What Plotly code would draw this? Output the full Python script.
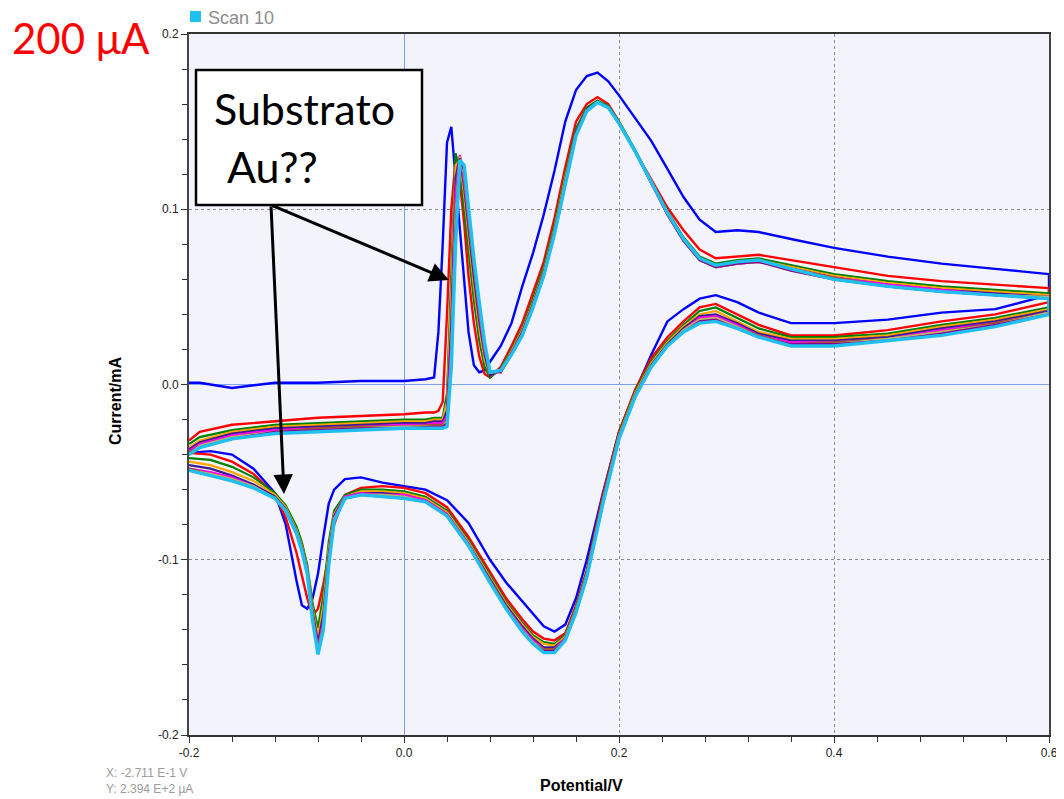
import plotly.graph_objects as go

# ---------------- data ----------------
# potential grid, forward sweep (-0.2 -> 0.6 V) and reverse sweep (0.6 -> -0.2 V)
E_FWD = [-0.200, -0.190, -0.160, -0.120, -0.080, -0.040, 0.000, 0.020, 0.028, 0.032,
         0.036, 0.040, 0.044, 0.048, 0.052, 0.056, 0.060, 0.065, 0.070, 0.075,
         0.080, 0.090, 0.100, 0.110, 0.120, 0.130, 0.140, 0.150, 0.160, 0.170,
         0.180, 0.190, 0.200, 0.215, 0.230, 0.245, 0.260, 0.275, 0.290, 0.310,
         0.330, 0.360, 0.400, 0.450, 0.500, 0.550, 0.600]
E_REV = [0.600, 0.550, 0.500, 0.450, 0.400, 0.360, 0.330, 0.310, 0.290, 0.275,
         0.260, 0.245, 0.230, 0.215, 0.200, 0.185, 0.170, 0.160, 0.150, 0.140,
         0.130, 0.120, 0.110, 0.095, 0.080, 0.060, 0.040, 0.020, 0.000, -0.020,
         -0.040, -0.055, -0.065, -0.070, -0.075, -0.080, -0.085, -0.090, -0.095, -0.100,
         -0.110, -0.120, -0.140, -0.160, -0.180, -0.200]

SCAN_NAMES = ["Scan 1", "Scan 2", "Scan 3", "Scan 4", "Scan 5",
              "Scan 6", "Scan 7", "Scan 8", "Scan 9", "Scan 10"]

# current (mA), forward sweep
I_FWD_1 = [0.001, 0.001, -0.002, 0.001, 0.001, 0.002, 0.002, 0.003, 0.004, 0.030,
           0.080, 0.138, 0.147, 0.118, 0.090, 0.058, 0.030, 0.011, 0.007, 0.008,
           0.013, 0.022, 0.035, 0.056, 0.075, 0.097, 0.122, 0.150, 0.168, 0.176,
           0.178, 0.173, 0.165, 0.152, 0.139, 0.123, 0.107, 0.094, 0.087, 0.088,
           0.087, 0.083, 0.078, 0.073, 0.069, 0.066, 0.063]
I_FWD_2 = [-0.032, -0.027, -0.023, -0.021, -0.019, -0.018, -0.017, -0.016, -0.016, -0.015,
           -0.010, 0.040, 0.100, 0.128, 0.115, 0.092, 0.062, 0.035, 0.016, 0.006,
           0.004, 0.010, 0.022, 0.035, 0.053, 0.070, 0.095, 0.124, 0.150, 0.160,
           0.164, 0.160, 0.150, 0.133, 0.117, 0.101, 0.088, 0.077, 0.072, 0.073,
           0.074, 0.071, 0.067, 0.062, 0.059, 0.057, 0.055]
I_FWD_3 = [-0.034, -0.030, -0.026, -0.023, -0.022, -0.021, -0.020, -0.020, -0.019, -0.019,
           -0.019, -0.005, 0.070, 0.132, 0.122, 0.100, 0.076, 0.048, 0.025, 0.010,
           0.004, 0.009, 0.020, 0.032, 0.049, 0.067, 0.091, 0.120, 0.146, 0.158,
           0.162, 0.159, 0.150, 0.134, 0.116, 0.099, 0.084, 0.073, 0.069, 0.071,
           0.072, 0.068, 0.063, 0.059, 0.056, 0.054, 0.052]
I_FWD_4 = [-0.036, -0.032, -0.027, -0.024, -0.023, -0.022, -0.021, -0.021, -0.020, -0.020,
           -0.020, -0.010, 0.050, 0.125, 0.128, 0.108, 0.084, 0.056, 0.032, 0.014,
           0.005, 0.008, 0.019, 0.031, 0.047, 0.065, 0.089, 0.118, 0.144, 0.157,
           0.161, 0.158, 0.149, 0.133, 0.116, 0.098, 0.083, 0.072, 0.068, 0.070,
           0.071, 0.067, 0.062, 0.058, 0.055, 0.053, 0.051]
I_FWD_5 = [-0.037, -0.033, -0.028, -0.025, -0.024, -0.023, -0.022, -0.022, -0.021, -0.021,
           -0.021, -0.015, 0.035, 0.118, 0.130, 0.112, 0.089, 0.061, 0.036, 0.017,
           0.005, 0.008, 0.018, 0.030, 0.046, 0.064, 0.088, 0.117, 0.144, 0.157,
           0.161, 0.158, 0.149, 0.133, 0.115, 0.098, 0.083, 0.072, 0.067, 0.069,
           0.071, 0.066, 0.061, 0.057, 0.054, 0.052, 0.050]
I_FWD_6 = [-0.038, -0.034, -0.029, -0.026, -0.025, -0.024, -0.023, -0.023, -0.022, -0.022,
           -0.022, -0.018, 0.025, 0.110, 0.131, 0.115, 0.093, 0.065, 0.040, 0.019,
           0.008, 0.007, 0.018, 0.029, 0.045, 0.063, 0.087, 0.116, 0.143, 0.156,
           0.161, 0.158, 0.149, 0.133, 0.115, 0.097, 0.082, 0.071, 0.067, 0.069,
           0.070, 0.066, 0.061, 0.057, 0.054, 0.051, 0.050]
I_FWD_7 = [-0.039, -0.035, -0.030, -0.027, -0.025, -0.024, -0.024, -0.023, -0.023, -0.023,
           -0.023, -0.020, 0.018, 0.100, 0.130, 0.118, 0.095, 0.067, 0.042, 0.021,
           0.007, 0.007, 0.017, 0.029, 0.045, 0.063, 0.087, 0.115, 0.143, 0.156,
           0.161, 0.158, 0.149, 0.133, 0.115, 0.097, 0.082, 0.071, 0.067, 0.069,
           0.070, 0.066, 0.061, 0.056, 0.053, 0.051, 0.050]
I_FWD_8 = [-0.040, -0.035, -0.030, -0.027, -0.026, -0.025, -0.024, -0.024, -0.024, -0.024,
           -0.024, -0.021, 0.015, 0.095, 0.130, 0.120, 0.097, 0.069, 0.044, 0.022,
           0.007, 0.007, 0.017, 0.028, 0.044, 0.062, 0.086, 0.115, 0.142, 0.156,
           0.161, 0.158, 0.149, 0.133, 0.115, 0.097, 0.082, 0.071, 0.067, 0.069,
           0.070, 0.065, 0.060, 0.056, 0.053, 0.051, 0.050]
I_FWD_9 = [-0.040, -0.036, -0.031, -0.027, -0.026, -0.025, -0.025, -0.024, -0.024, -0.024,
           -0.024, -0.022, 0.012, 0.088, 0.129, 0.122, 0.098, 0.070, 0.045, 0.023,
           0.007, 0.007, 0.017, 0.028, 0.044, 0.062, 0.086, 0.114, 0.142, 0.156,
           0.161, 0.158, 0.149, 0.133, 0.115, 0.097, 0.082, 0.071, 0.067, 0.069,
           0.070, 0.065, 0.060, 0.056, 0.053, 0.051, 0.049]
I_FWD_10 = [-0.040, -0.036, -0.031, -0.028, -0.027, -0.026, -0.025, -0.025, -0.025, -0.025,
            -0.025, -0.024, 0.010, 0.080, 0.128, 0.125, 0.100, 0.072, 0.047, 0.024,
            0.007, 0.008, 0.017, 0.028, 0.044, 0.062, 0.086, 0.114, 0.142, 0.156,
            0.161, 0.158, 0.149, 0.133, 0.115, 0.098, 0.083, 0.072, 0.068, 0.070,
            0.071, 0.066, 0.060, 0.056, 0.053, 0.051, 0.049]

# current (mA), reverse sweep
I_REV_1 = [0.051, 0.043, 0.041, 0.037, 0.035, 0.035, 0.041, 0.047, 0.051, 0.049,
           0.043, 0.036, 0.017, -0.004, -0.027, -0.062, -0.100, -0.122, -0.137, -0.141,
           -0.138, -0.131, -0.124, -0.113, -0.100, -0.079, -0.066, -0.060, -0.058, -0.056,
           -0.053, -0.054, -0.060, -0.068, -0.087, -0.108, -0.122, -0.128, -0.126, -0.112,
           -0.080, -0.062, -0.048, -0.040, -0.038, -0.039]
I_REV_2 = [0.047, 0.040, 0.036, 0.031, 0.028, 0.028, 0.034, 0.040, 0.046, 0.044,
           0.036, 0.027, 0.015, -0.003, -0.027, -0.063, -0.106, -0.126, -0.142, -0.146,
           -0.145, -0.141, -0.134, -0.122, -0.107, -0.087, -0.070, -0.062, -0.059, -0.058,
           -0.059, -0.063, -0.080, -0.098, -0.114, -0.128, -0.132, -0.122, -0.109, -0.096,
           -0.076, -0.063, -0.051, -0.044, -0.040, -0.039]
I_REV_3 = [0.044, 0.038, 0.034, 0.029, 0.027, 0.027, 0.032, 0.038, 0.044, 0.042,
           0.034, 0.025, 0.013, -0.004, -0.028, -0.065, -0.107, -0.127, -0.143, -0.148,
           -0.147, -0.143, -0.136, -0.124, -0.109, -0.089, -0.072, -0.064, -0.061, -0.060,
           -0.060, -0.063, -0.072, -0.090, -0.120, -0.139, -0.125, -0.103, -0.090, -0.081,
           -0.069, -0.062, -0.053, -0.047, -0.043, -0.042]
I_REV_4 = [0.043, 0.037, 0.033, 0.028, 0.026, 0.026, 0.030, 0.036, 0.042, 0.040,
           0.033, 0.024, 0.012, -0.005, -0.029, -0.066, -0.108, -0.128, -0.144, -0.149,
           -0.148, -0.144, -0.137, -0.125, -0.110, -0.090, -0.073, -0.065, -0.062, -0.061,
           -0.061, -0.064, -0.074, -0.094, -0.126, -0.144, -0.128, -0.105, -0.092, -0.083,
           -0.070, -0.063, -0.055, -0.050, -0.046, -0.044]
I_REV_5 = [0.042, 0.036, 0.032, 0.027, 0.025, 0.025, 0.029, 0.035, 0.040, 0.039,
           0.032, 0.023, 0.011, -0.006, -0.030, -0.067, -0.109, -0.129, -0.145, -0.150,
           -0.150, -0.145, -0.138, -0.126, -0.111, -0.091, -0.074, -0.066, -0.063, -0.062,
           -0.062, -0.064, -0.075, -0.097, -0.131, -0.147, -0.130, -0.106, -0.093, -0.084,
           -0.071, -0.064, -0.057, -0.052, -0.048, -0.046]
I_REV_6 = [0.041, 0.035, 0.031, 0.026, 0.024, 0.024, 0.028, 0.034, 0.039, 0.038,
           0.031, 0.022, 0.010, -0.007, -0.030, -0.067, -0.109, -0.129, -0.145, -0.151,
           -0.151, -0.146, -0.139, -0.127, -0.112, -0.091, -0.074, -0.066, -0.063, -0.063,
           -0.062, -0.064, -0.076, -0.099, -0.135, -0.150, -0.132, -0.107, -0.094, -0.085,
           -0.072, -0.065, -0.058, -0.053, -0.050, -0.048]
I_REV_7 = [0.041, 0.035, 0.030, 0.026, 0.024, 0.023, 0.028, 0.033, 0.038, 0.037,
           0.031, 0.022, 0.010, -0.007, -0.031, -0.068, -0.110, -0.130, -0.146, -0.151,
           -0.151, -0.147, -0.140, -0.127, -0.112, -0.092, -0.075, -0.067, -0.064, -0.063,
           -0.063, -0.065, -0.077, -0.101, -0.137, -0.151, -0.133, -0.107, -0.094, -0.085,
           -0.072, -0.065, -0.058, -0.054, -0.051, -0.048]
I_REV_8 = [0.041, 0.034, 0.030, 0.026, 0.023, 0.023, 0.027, 0.033, 0.038, 0.037,
           0.031, 0.022, 0.010, -0.007, -0.031, -0.068, -0.110, -0.130, -0.146, -0.152,
           -0.152, -0.147, -0.140, -0.128, -0.113, -0.092, -0.075, -0.067, -0.064, -0.063,
           -0.063, -0.065, -0.077, -0.102, -0.138, -0.152, -0.134, -0.108, -0.094, -0.085,
           -0.072, -0.065, -0.058, -0.054, -0.051, -0.049]
I_REV_9 = [0.040, 0.034, 0.029, 0.025, 0.023, 0.023, 0.027, 0.032, 0.037, 0.036,
           0.030, 0.022, 0.010, -0.007, -0.031, -0.068, -0.110, -0.130, -0.146, -0.152,
           -0.152, -0.148, -0.141, -0.128, -0.113, -0.092, -0.075, -0.067, -0.065, -0.064,
           -0.063, -0.065, -0.078, -0.103, -0.139, -0.153, -0.134, -0.108, -0.095, -0.085,
           -0.072, -0.065, -0.059, -0.055, -0.052, -0.049]
I_REV_10 = [0.040, 0.033, 0.028, 0.025, 0.022, 0.022, 0.027, 0.032, 0.036, 0.035,
            0.030, 0.022, 0.010, -0.007, -0.031, -0.068, -0.110, -0.130, -0.146, -0.153,
            -0.153, -0.148, -0.141, -0.128, -0.113, -0.092, -0.075, -0.067, -0.065, -0.064,
            -0.063, -0.065, -0.078, -0.103, -0.140, -0.154, -0.135, -0.108, -0.095, -0.085,
            -0.072, -0.065, -0.059, -0.055, -0.052, -0.049]

I_FWD = [I_FWD_1, I_FWD_2, I_FWD_3, I_FWD_4, I_FWD_5,
         I_FWD_6, I_FWD_7, I_FWD_8, I_FWD_9, I_FWD_10]
I_REV = [I_REV_1, I_REV_2, I_REV_3, I_REV_4, I_REV_5,
         I_REV_6, I_REV_7, I_REV_8, I_REV_9, I_REV_10]

X_TICK_VALS = [-0.2, 0.0, 0.2, 0.4, 0.6]
X_TICK_TEXT = ["-0.2", "0.0", "0.2", "0.4", "0.6"]
Y_TICK_VALS = [-0.2, -0.1, 0.0, 0.1, 0.2]
Y_TICK_TEXT = ["-0.2", "-0.1", "0.0", "0.1", "0.2"]

# ---------------- styles ----------------
COLORS = ["#0000ff", "#ff0000", "#008000", "#ffa500", "#3d1c8f",
          "#ff00ff", "#a0522d", "#bdb76b", "#8b008b", "#1fbfef"]
WIDTHS = [2.4, 2.4, 2.2, 2.2, 2.2, 2.2, 2.2, 2.2, 2.2, 3.4]

fig = go.Figure()
for name, fwd, rev, col, w in zip(SCAN_NAMES, I_FWD, I_REV, COLORS, WIDTHS):
    fig.add_trace(go.Scatter(
        x=E_FWD + E_REV, y=fwd + rev, mode="lines", name=name,
        line=dict(color=col, width=w), showlegend=False))

TICKFONT = dict(family="Liberation Sans, Arial, sans-serif", size=12, color="#222222")

fig.update_xaxes(
    range=[-0.2, 0.6], tickmode="array", tickvals=X_TICK_VALS, ticktext=X_TICK_TEXT,
    ticks="outside", ticklen=6, tickwidth=1, tickcolor="#333333", tickfont=TICKFONT,
    minor=dict(tickmode="linear", tick0=-0.2, dtick=0.04, ticks="outside",
               ticklen=5, tickcolor="#333333", showgrid=False),
    showgrid=True, gridcolor="#8a8a8a", griddash="dot", gridwidth=1,
    zeroline=True, zerolinecolor="#7f9ff0", zerolinewidth=1, automargin=False,
    showline=True, mirror=True, linecolor="#333333", linewidth=2)
fig.update_yaxes(
    range=[-0.2, 0.2], tickmode="array", tickvals=Y_TICK_VALS, ticktext=Y_TICK_TEXT,
    ticks="outside", ticklen=6, tickwidth=1, tickcolor="#333333", tickfont=TICKFONT,
    minor=dict(tickmode="linear", tick0=-0.2, dtick=0.02, ticks="outside",
               ticklen=5, tickcolor="#333333", showgrid=False),
    showgrid=True, gridcolor="#8a8a8a", griddash="dot", gridwidth=1,
    zeroline=True, zerolinecolor="#7f9ff0", zerolinewidth=1, automargin=False,
    showline=True, mirror=True, linecolor="#444444", linewidth=2)

# page body has an 8px margin: shrink the figure so it ends at the window edge
OFF = 8
W, H = 1064 - OFF, 799 - OFF
ML, MR, MT, MB = 189 - OFF, 15, 34 - OFF, 64
PW, PH = W - ML - MR, H - MT - MB


def px(xp):
    # window pixel -> paper fraction
    return (xp - OFF - ML) / PW


def py(yp):
    return (H - MB - (yp - OFF)) / PH


shapes = [
    # annotation box
    dict(type="rect", xref="paper", yref="paper", x0=px(196), x1=px(422),
         y0=py(205), y1=py(70), line=dict(color="black", width=2.5),
         fillcolor="white", layer="above"),
    # legend swatch
    dict(type="rect", xref="paper", yref="paper", x0=px(190), x1=px(201),
         y0=py(22), y1=py(11), line=dict(width=0), fillcolor="#1fbfef"),
]

annotations = [
    dict(text="Substrato", xref="paper", yref="paper", x=px(212), y=py(108),
         xanchor="left", yanchor="middle", showarrow=False,
         font=dict(family="Lato, Carlito, sans-serif", size=43, color="black")),
    dict(text="Au??", xref="paper", yref="paper", x=px(225), y=py(166),
         xanchor="left", yanchor="middle", showarrow=False,
         font=dict(family="Lato, Carlito, sans-serif", size=43, color="black")),
    dict(text="200 μA", xref="paper", yref="paper", x=px(10), y=py(38),
         xanchor="left", yanchor="middle", showarrow=False,
         font=dict(family="Lato, sans-serif", size=42, color="#ff0000")),
    dict(text="Scan 10", xref="paper", yref="paper", x=px(206), y=py(18),
         xanchor="left", yanchor="middle", showarrow=False,
         font=dict(family="Liberation Sans, Arial, sans-serif", size=18, color="#8c8c8c")),
    dict(text="<b>Potential/V</b>", xref="paper", yref="paper", x=px(581), y=py(785),
         xanchor="center", yanchor="middle", showarrow=False,
         font=dict(family="Liberation Sans, Arial, sans-serif", size=16, color="black")),
    dict(text="<b>Current/mA</b>", xref="paper", yref="paper", x=px(115), y=py(401),
         xanchor="center", yanchor="middle", showarrow=False, textangle=-90,
         font=dict(family="Liberation Sans, Arial, sans-serif", size=16, color="black")),
    dict(text="X: -2.711 E-1 V<br>Y: 2.394 E+2 µA", xref="paper", yref="paper",
         x=px(104), y=py(781), xanchor="left", yanchor="middle", showarrow=False,
         align="left",
         font=dict(family="Liberation Sans, Arial, sans-serif", size=12, color="#9a9a9a")),
    # arrows
    dict(text="", xref="paper", yref="paper", axref="pixel", ayref="pixel",
         x=px(449), y=py(280), ax=271 - 449, ay=205 - 280,
         showarrow=True, arrowhead=2, arrowsize=1.3, arrowwidth=3,
         arrowcolor="black", standoff=0),
    dict(text="", xref="paper", yref="paper", axref="pixel", ayref="pixel",
         x=px(284), y=py(494), ax=271 - 284, ay=205 - 494,
         showarrow=True, arrowhead=2, arrowsize=1.3, arrowwidth=3,
         arrowcolor="black", standoff=0),
]

fig.update_layout(
    width=W, height=H, autosize=False,
    margin=dict(l=ML, r=MR, t=MT, b=MB, pad=0),
    paper_bgcolor="white", plot_bgcolor="#f3f3fc",
    shapes=shapes, annotations=annotations, showlegend=False,
)

fig.write_html("out.html")
